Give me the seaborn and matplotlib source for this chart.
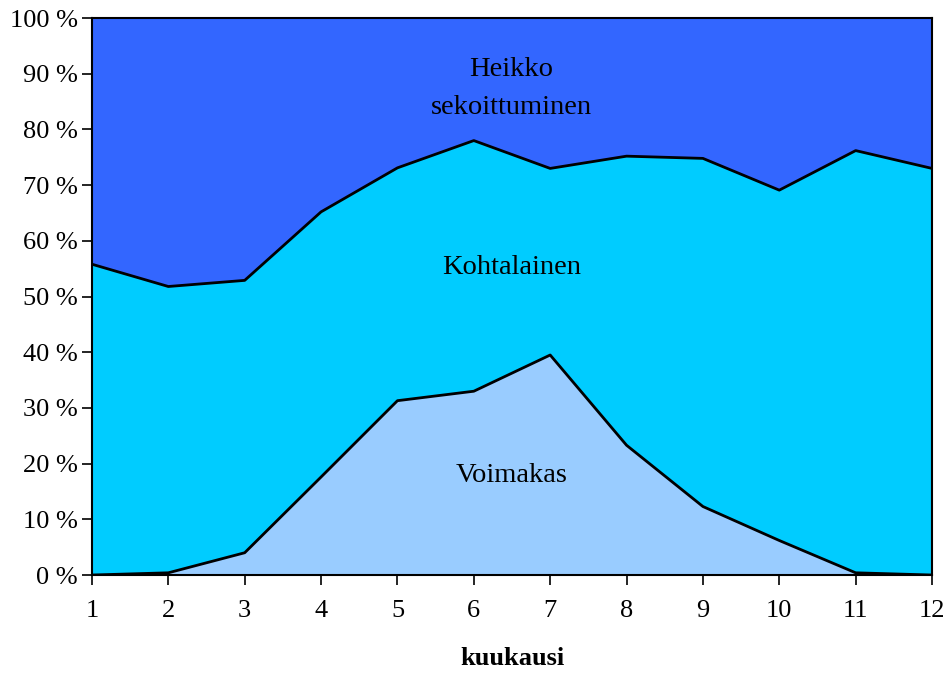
import numpy as np
import matplotlib
matplotlib.use("Agg")
import matplotlib.pyplot as plt
import seaborn as sns
import pandas as pd

# Monthly shares (%) of mixing intensity classes
months = [1, 2, 3, 4, 5, 6, 7, 8, 9, 10, 11, 12]
voimakas = [0.0, 0.4, 4.0, 17.6, 31.3, 33.0, 39.5, 23.3, 12.3, 6.2, 0.4, 0.0]
kohtalainen = [55.8, 51.4, 48.9, 47.6, 41.8, 45.0, 33.5, 51.9, 62.5, 62.9, 75.8, 73.0]
heikko = [44.2, 48.2, 47.1, 34.8, 26.9, 22.0, 27.0, 24.8, 25.2, 30.9, 23.8, 27.0]

colors = ["#99CCFF", "#00CCFF", "#3366FF"]
y_ticks = list(range(0, 101, 10))
y_tick_labels = [f"{v} %" for v in y_ticks]

sns.set_theme(style="white")
plt.rcParams["font.family"] = ["Liberation Serif", "DejaVu Serif"]
plt.rcParams["text.color"] = "black"
plt.rcParams["xtick.color"] = "black"
plt.rcParams["ytick.color"] = "black"
plt.rcParams["axes.labelcolor"] = "black"

df = pd.DataFrame({"kuukausi": months, "Voimakas": voimakas,
                   "Kohtalainen": kohtalainen, "Heikko": heikko})

fig = plt.figure(figsize=(9.47, 6.75), dpi=100)
ax = fig.add_axes([0.0971, 0.1481, 0.8871, 0.8252])

stack = np.vstack([df["Voimakas"], df["Kohtalainen"], df["Heikko"]])
ax.stackplot(df["kuukausi"], stack, colors=colors, linewidth=0)

# boundary lines between the classes
cum = np.cumsum(stack, axis=0)
for row in cum[:2]:
    sns.lineplot(x=df["kuukausi"], y=row, ax=ax, color="black", linewidth=2.0)

ax.set_xlim(1, 12)
ax.set_ylim(0, 100)
ax.set_xticks(months)
ax.set_xticklabels([str(m) for m in months], fontsize=19)
ax.set_yticks(y_ticks)
ax.set_yticklabels(y_tick_labels, fontsize=19)
ax.tick_params(axis="both", direction="out", length=7, width=1.2, color="black",
               left=True, bottom=True)
ax.tick_params(axis="x", pad=11)
ax.tick_params(axis="y", pad=3)
for s in ax.spines.values():
    s.set_color("black")
    s.set_linewidth(1.5)
    s.set_visible(True)

ax.set_xlabel("kuukausi", fontsize=19, fontweight="bold", labelpad=18)
ax.set_ylabel("")

ax.text(6.49, 87.4, "Heikko\nsekoittuminen", ha="center", va="center",
        fontsize=20.5, linespacing=1.7)
ax.text(6.49, 55.3, "Kohtalainen", ha="center", va="center", fontsize=20.5)
ax.text(6.49, 17.8, "Voimakas", ha="center", va="center", fontsize=20.5)

fig.savefig("out.png", dpi=100)
